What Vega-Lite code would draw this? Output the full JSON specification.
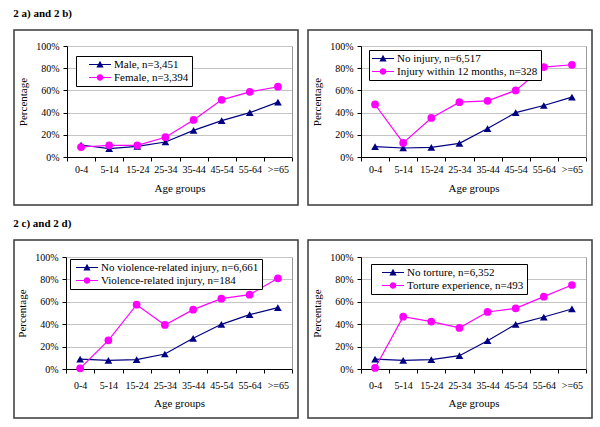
{
  "$schema": "https://vega.github.io/schema/vega-lite/v6.json",
  "background": "white",
  "padding": {"left": 13, "top": 8, "right": 0, "bottom": 0},
  "data": {
    "values": [
      {"panel": "a", "series": "Male, n=3,451", "age": "0-4", "value": 0.108},
      {"panel": "a", "series": "Male, n=3,451", "age": "5-14", "value": 0.075},
      {"panel": "a", "series": "Male, n=3,451", "age": "15-24", "value": 0.096},
      {"panel": "a", "series": "Male, n=3,451", "age": "25-34", "value": 0.135},
      {"panel": "a", "series": "Male, n=3,451", "age": "35-44", "value": 0.24},
      {"panel": "a", "series": "Male, n=3,451", "age": "45-54", "value": 0.328},
      {"panel": "a", "series": "Male, n=3,451", "age": "55-64", "value": 0.4},
      {"panel": "a", "series": "Male, n=3,451", "age": ">=65", "value": 0.494},
      {"panel": "a", "series": "Female, n=3,394", "age": "0-4", "value": 0.09},
      {"panel": "a", "series": "Female, n=3,394", "age": "5-14", "value": 0.105},
      {"panel": "a", "series": "Female, n=3,394", "age": "15-24", "value": 0.105},
      {"panel": "a", "series": "Female, n=3,394", "age": "25-34", "value": 0.178},
      {"panel": "a", "series": "Female, n=3,394", "age": "35-44", "value": 0.334},
      {"panel": "a", "series": "Female, n=3,394", "age": "45-54", "value": 0.515},
      {"panel": "a", "series": "Female, n=3,394", "age": "55-64", "value": 0.587},
      {"panel": "a", "series": "Female, n=3,394", "age": ">=65", "value": 0.633},
      {"panel": "b", "series": "No injury, n=6,517", "age": "0-4", "value": 0.093},
      {"panel": "b", "series": "No injury, n=6,517", "age": "5-14", "value": 0.081},
      {"panel": "b", "series": "No injury, n=6,517", "age": "15-24", "value": 0.087},
      {"panel": "b", "series": "No injury, n=6,517", "age": "25-34", "value": 0.123},
      {"panel": "b", "series": "No injury, n=6,517", "age": "35-44", "value": 0.256},
      {"panel": "b", "series": "No injury, n=6,517", "age": "45-54", "value": 0.4},
      {"panel": "b", "series": "No injury, n=6,517", "age": "55-64", "value": 0.464},
      {"panel": "b", "series": "No injury, n=6,517", "age": ">=65", "value": 0.539},
      {"panel": "b", "series": "Injury within 12 months, n=328", "age": "0-4", "value": 0.473},
      {"panel": "b", "series": "Injury within 12 months, n=328", "age": "5-14", "value": 0.127},
      {"panel": "b", "series": "Injury within 12 months, n=328", "age": "15-24", "value": 0.352},
      {"panel": "b", "series": "Injury within 12 months, n=328", "age": "25-34", "value": 0.494},
      {"panel": "b", "series": "Injury within 12 months, n=328", "age": "35-44", "value": 0.506},
      {"panel": "b", "series": "Injury within 12 months, n=328", "age": "45-54", "value": 0.6},
      {"panel": "b", "series": "Injury within 12 months, n=328", "age": "55-64", "value": 0.81},
      {"panel": "b", "series": "Injury within 12 months, n=328", "age": ">=65", "value": 0.831},
      {"panel": "c", "series": "No violence-related injury, n=6,661", "age": "0-4", "value": 0.089},
      {"panel": "c", "series": "No violence-related injury, n=6,661", "age": "5-14", "value": 0.077},
      {"panel": "c", "series": "No violence-related injury, n=6,661", "age": "15-24", "value": 0.083},
      {"panel": "c", "series": "No violence-related injury, n=6,661", "age": "25-34", "value": 0.134},
      {"panel": "c", "series": "No violence-related injury, n=6,661", "age": "35-44", "value": 0.274},
      {"panel": "c", "series": "No violence-related injury, n=6,661", "age": "45-54", "value": 0.399},
      {"panel": "c", "series": "No violence-related injury, n=6,661", "age": "55-64", "value": 0.485},
      {"panel": "c", "series": "No violence-related injury, n=6,661", "age": ">=65", "value": 0.548},
      {"panel": "c", "series": "Violence-related injury, n=184", "age": "0-4", "value": 0.006},
      {"panel": "c", "series": "Violence-related injury, n=184", "age": "5-14", "value": 0.256},
      {"panel": "c", "series": "Violence-related injury, n=184", "age": "15-24", "value": 0.574},
      {"panel": "c", "series": "Violence-related injury, n=184", "age": "25-34", "value": 0.393},
      {"panel": "c", "series": "Violence-related injury, n=184", "age": "35-44", "value": 0.53},
      {"panel": "c", "series": "Violence-related injury, n=184", "age": "45-54", "value": 0.628},
      {"panel": "c", "series": "Violence-related injury, n=184", "age": "55-64", "value": 0.664},
      {"panel": "c", "series": "Violence-related injury, n=184", "age": ">=65", "value": 0.81},
      {"panel": "d", "series": "No torture, n=6,352", "age": "0-4", "value": 0.089},
      {"panel": "d", "series": "No torture, n=6,352", "age": "5-14", "value": 0.077},
      {"panel": "d", "series": "No torture, n=6,352", "age": "15-24", "value": 0.083},
      {"panel": "d", "series": "No torture, n=6,352", "age": "25-34", "value": 0.119},
      {"panel": "d", "series": "No torture, n=6,352", "age": "35-44", "value": 0.253},
      {"panel": "d", "series": "No torture, n=6,352", "age": "45-54", "value": 0.399},
      {"panel": "d", "series": "No torture, n=6,352", "age": "55-64", "value": 0.464},
      {"panel": "d", "series": "No torture, n=6,352", "age": ">=65", "value": 0.536},
      {"panel": "d", "series": "Torture experience, n=493", "age": "0-4", "value": 0.009},
      {"panel": "d", "series": "Torture experience, n=493", "age": "5-14", "value": 0.467},
      {"panel": "d", "series": "Torture experience, n=493", "age": "15-24", "value": 0.423},
      {"panel": "d", "series": "Torture experience, n=493", "age": "25-34", "value": 0.367},
      {"panel": "d", "series": "Torture experience, n=493", "age": "35-44", "value": 0.509},
      {"panel": "d", "series": "Torture experience, n=493", "age": "45-54", "value": 0.542},
      {"panel": "d", "series": "Torture experience, n=493", "age": "55-64", "value": 0.646},
      {"panel": "d", "series": "Torture experience, n=493", "age": ">=65", "value": 0.75}
    ]
  },
  "spacing": 12,
  "resolve": {"scale": {"color": "independent", "shape": "independent"}, "legend": {"color": "independent", "shape": "independent"}},
  "vconcat": [
    {
      "title": {"text": "2 a) and 2 b)", "offset": 10},
      "spacing": 8,
      "resolve": {"scale": {"color": "independent", "shape": "independent"}, "legend": {"color": "independent", "shape": "independent"}},
      "hconcat": [
        {
          "width": 284,
          "height": 175,
          "transform": [{"filter": "datum.panel == 'a'"}],
          "resolve": {"axis": {"y": "independent"}},
          "layer": [
            {
              "mark": {"type": "line", "strokeWidth": 1.2},
              "encoding": {
                "x": {"field": "age", "type": "ordinal", "sort": null,
                  "scale": {"type": "band", "domain": ["0-4", "5-14", "15-24", "25-34", "35-44", "45-54", "55-64", ">=65"], "range": [53, 278], "paddingInner": 0, "paddingOuter": 0},
                  "axis": {"offset": -48, "tickBand": "extent", "labelPadding": 3, "title": "Age groups", "titlePadding": 8}},
                "y": {"field": "value", "type": "quantitative",
                  "scale": {"domain": [0, 1], "range": [127, 16], "nice": false},
                  "axis": {"offset": -53, "values": [0, 0.2, 0.4, 0.6, 0.8, 1], "format": ".0%", "grid": true, "title": "Percentage", "titlePadding": 7}},
                "color": {"field": "series", "type": "nominal", "scale": {"domain": ["Male, n=3,451", "Female, n=3,394"], "range": ["#000080", "#ff00ff"]}, "legend": {"title": null, "orient": "none", "legendX": 62, "legendY": 26, "symbolOffset": 15.5}}
              }
            },
            {
              "mark": {"type": "point", "filled": true, "opacity": 1, "size": 60, "strokeWidth": 0},
              "encoding": {
                "x": {"field": "age", "type": "ordinal", "sort": null,
                  "axis": {"offset": -48, "tickBand": "extent", "labelPadding": 3, "title": "Age groups", "titlePadding": 8}},
                "y": {"field": "value", "type": "quantitative", "axis": null},
                "color": {"field": "series", "type": "nominal", "legend": {"title": null, "orient": "none", "legendX": 62, "legendY": 26, "symbolOffset": 15.5}},
                "shape": {"condition": {"test": "indexof(datum.series, 'Female') == 0", "value": "circle"}, "value": "triangle-up"}
              }
            },
            {
              "transform": [{"filter": "datum.value < 0"}],
              "mark": {"type": "point", "filled": true},
              "encoding": {
                "y": {"field": "value", "type": "quantitative", "axis": {"orient": "right", "offset": -6, "labels": false, "ticks": false, "grid": false, "title": null, "domainColor": "#999999"}},
                "color": {"field": "series", "type": "nominal", "legend": {"title": null, "orient": "none", "legendX": 62, "legendY": 26, "symbolOffset": 15.5}},
                "shape": {"field": "series", "type": "nominal",
                  "scale": {"domain": ["Male, n=3,451", "Female, n=3,394"], "range": ["M-2,-0.1H2V0.1H-2Z M0,-0.68L0.66,0.54L-0.66,0.54Z", "M-2,-0.1H2V0.1H-2Z M0.6,0A0.6,0.6 0 1,1 -0.6,0A0.6,0.6 0 1,1 0.6,0Z"]},
                  "legend": {"title": null, "orient": "none", "legendX": 62, "legendY": 26, "symbolOffset": 15.5}}
              }
            }
          ]
        },
        {
          "width": 284,
          "height": 175,
          "transform": [{"filter": "datum.panel == 'b'"}],
          "resolve": {"axis": {"y": "independent"}},
          "layer": [
            {
              "mark": {"type": "line", "strokeWidth": 1.2},
              "encoding": {
                "x": {"field": "age", "type": "ordinal", "sort": null,
                  "scale": {"type": "band", "domain": ["0-4", "5-14", "15-24", "25-34", "35-44", "45-54", "55-64", ">=65"], "range": [53, 278], "paddingInner": 0, "paddingOuter": 0},
                  "axis": {"offset": -48, "tickBand": "extent", "labelPadding": 3, "title": "Age groups", "titlePadding": 8}},
                "y": {"field": "value", "type": "quantitative",
                  "scale": {"domain": [0, 1], "range": [127, 16], "nice": false},
                  "axis": {"offset": -53, "values": [0, 0.2, 0.4, 0.6, 0.8, 1], "format": ".0%", "grid": true, "title": "Percentage", "titlePadding": 7}},
                "color": {"field": "series", "type": "nominal", "scale": {"domain": ["No injury, n=6,517", "Injury within 12 months, n=328"], "range": ["#000080", "#ff00ff"]}, "legend": {"title": null, "orient": "none", "legendX": 61, "legendY": 20, "symbolOffset": 5.5}}
              }
            },
            {
              "mark": {"type": "point", "filled": true, "opacity": 1, "size": 60, "strokeWidth": 0},
              "encoding": {
                "x": {"field": "age", "type": "ordinal", "sort": null,
                  "axis": {"offset": -48, "tickBand": "extent", "labelPadding": 3, "title": "Age groups", "titlePadding": 8}},
                "y": {"field": "value", "type": "quantitative", "axis": null},
                "color": {"field": "series", "type": "nominal", "legend": {"title": null, "orient": "none", "legendX": 61, "legendY": 20, "symbolOffset": 5.5}},
                "shape": {"condition": {"test": "indexof(datum.series, 'Injury') == 0", "value": "circle"}, "value": "triangle-up"}
              }
            },
            {
              "transform": [{"filter": "datum.value < 0"}],
              "mark": {"type": "point", "filled": true},
              "encoding": {
                "y": {"field": "value", "type": "quantitative", "axis": {"orient": "right", "offset": -6, "labels": false, "ticks": false, "grid": false, "title": null, "domainColor": "#999999"}},
                "color": {"field": "series", "type": "nominal", "legend": {"title": null, "orient": "none", "legendX": 61, "legendY": 20, "symbolOffset": 5.5}},
                "shape": {"field": "series", "type": "nominal",
                  "scale": {"domain": ["No injury, n=6,517", "Injury within 12 months, n=328"], "range": ["M-2,-0.1H2V0.1H-2Z M0,-0.68L0.66,0.54L-0.66,0.54Z", "M-2,-0.1H2V0.1H-2Z M0.6,0A0.6,0.6 0 1,1 -0.6,0A0.6,0.6 0 1,1 0.6,0Z"]},
                  "legend": {"title": null, "orient": "none", "legendX": 61, "legendY": 20, "symbolOffset": 5.5}}
              }
            }
          ]
        }
      ]
    },
    {
      "title": {"text": "2 c) and 2 d)", "offset": 10},
      "spacing": 8,
      "resolve": {"scale": {"color": "independent", "shape": "independent"}, "legend": {"color": "independent", "shape": "independent"}},
      "hconcat": [
        {
          "width": 284,
          "height": 178,
          "transform": [{"filter": "datum.panel == 'c'"}],
          "resolve": {"axis": {"y": "independent"}},
          "layer": [
            {
              "mark": {"type": "line", "strokeWidth": 1.2},
              "encoding": {
                "x": {"field": "age", "type": "ordinal", "sort": null,
                  "scale": {"type": "band", "domain": ["0-4", "5-14", "15-24", "25-34", "35-44", "45-54", "55-64", ">=65"], "range": [52, 278], "paddingInner": 0, "paddingOuter": 0},
                  "axis": {"offset": -49, "tickBand": "extent", "labelPadding": 7, "title": "Age groups", "titlePadding": 7}},
                "y": {"field": "value", "type": "quantitative",
                  "scale": {"domain": [0, 1], "range": [129, 17], "nice": false},
                  "axis": {"offset": -52, "values": [0, 0.2, 0.4, 0.6, 0.8, 1], "format": ".0%", "grid": true, "title": "Percentage", "titlePadding": 7}},
                "color": {"field": "series", "type": "nominal", "scale": {"domain": ["No violence-related injury, n=6,661", "Violence-related injury, n=184"], "range": ["#000080", "#ff00ff"]}, "legend": {"title": null, "orient": "none", "legendX": 56, "legendY": 19, "symbolOffset": 8.5}}
              }
            },
            {
              "mark": {"type": "point", "filled": true, "opacity": 1, "size": 60, "strokeWidth": 0},
              "encoding": {
                "x": {"field": "age", "type": "ordinal", "sort": null,
                  "axis": {"offset": -49, "tickBand": "extent", "labelPadding": 7, "title": "Age groups", "titlePadding": 7}},
                "y": {"field": "value", "type": "quantitative", "axis": null},
                "color": {"field": "series", "type": "nominal", "legend": {"title": null, "orient": "none", "legendX": 56, "legendY": 19, "symbolOffset": 8.5}},
                "shape": {"condition": {"test": "indexof(datum.series, 'Violence') == 0", "value": "circle"}, "value": "triangle-up"}
              }
            },
            {
              "transform": [{"filter": "datum.value < 0"}],
              "mark": {"type": "point", "filled": true},
              "encoding": {
                "y": {"field": "value", "type": "quantitative", "axis": {"orient": "right", "offset": -6, "labels": false, "ticks": false, "grid": false, "title": null, "domainColor": "#999999"}},
                "color": {"field": "series", "type": "nominal", "legend": {"title": null, "orient": "none", "legendX": 56, "legendY": 19, "symbolOffset": 8.5}},
                "shape": {"field": "series", "type": "nominal",
                  "scale": {"domain": ["No violence-related injury, n=6,661", "Violence-related injury, n=184"], "range": ["M-2,-0.1H2V0.1H-2Z M0,-0.68L0.66,0.54L-0.66,0.54Z", "M-2,-0.1H2V0.1H-2Z M0.6,0A0.6,0.6 0 1,1 -0.6,0A0.6,0.6 0 1,1 0.6,0Z"]},
                  "legend": {"title": null, "orient": "none", "legendX": 56, "legendY": 19, "symbolOffset": 8.5}}
              }
            }
          ]
        },
        {
          "width": 284,
          "height": 178,
          "transform": [{"filter": "datum.panel == 'd'"}],
          "resolve": {"axis": {"y": "independent"}},
          "layer": [
            {
              "mark": {"type": "line", "strokeWidth": 1.2},
              "encoding": {
                "x": {"field": "age", "type": "ordinal", "sort": null,
                  "scale": {"type": "band", "domain": ["0-4", "5-14", "15-24", "25-34", "35-44", "45-54", "55-64", ">=65"], "range": [53, 278], "paddingInner": 0, "paddingOuter": 0},
                  "axis": {"offset": -49, "tickBand": "extent", "labelPadding": 7, "title": "Age groups", "titlePadding": 7}},
                "y": {"field": "value", "type": "quantitative",
                  "scale": {"domain": [0, 1], "range": [129, 17], "nice": false},
                  "axis": {"offset": -53, "values": [0, 0.2, 0.4, 0.6, 0.8, 1], "format": ".0%", "grid": true, "title": "Percentage", "titlePadding": 7}},
                "color": {"field": "series", "type": "nominal", "scale": {"domain": ["No torture, n=6,352", "Torture experience, n=493"], "range": ["#000080", "#ff00ff"]}, "legend": {"title": null, "orient": "none", "legendX": 63, "legendY": 24, "symbolOffset": 13.5}}
              }
            },
            {
              "mark": {"type": "point", "filled": true, "opacity": 1, "size": 60, "strokeWidth": 0},
              "encoding": {
                "x": {"field": "age", "type": "ordinal", "sort": null,
                  "axis": {"offset": -49, "tickBand": "extent", "labelPadding": 7, "title": "Age groups", "titlePadding": 7}},
                "y": {"field": "value", "type": "quantitative", "axis": null},
                "color": {"field": "series", "type": "nominal", "legend": {"title": null, "orient": "none", "legendX": 63, "legendY": 24, "symbolOffset": 13.5}},
                "shape": {"condition": {"test": "indexof(datum.series, 'Torture') == 0", "value": "circle"}, "value": "triangle-up"}
              }
            },
            {
              "transform": [{"filter": "datum.value < 0"}],
              "mark": {"type": "point", "filled": true},
              "encoding": {
                "y": {"field": "value", "type": "quantitative", "axis": {"orient": "right", "offset": -6, "labels": false, "ticks": false, "grid": false, "title": null, "domainColor": "#999999"}},
                "color": {"field": "series", "type": "nominal", "legend": {"title": null, "orient": "none", "legendX": 63, "legendY": 24, "symbolOffset": 13.5}},
                "shape": {"field": "series", "type": "nominal",
                  "scale": {"domain": ["No torture, n=6,352", "Torture experience, n=493"], "range": ["M-2,-0.1H2V0.1H-2Z M0,-0.68L0.66,0.54L-0.66,0.54Z", "M-2,-0.1H2V0.1H-2Z M0.6,0A0.6,0.6 0 1,1 -0.6,0A0.6,0.6 0 1,1 0.6,0Z"]},
                  "legend": {"title": null, "orient": "none", "legendX": 63, "legendY": 24, "symbolOffset": 13.5}}
              }
            }
          ]
        }
      ]
    }
  ],
  "config": {
    "font": "Liberation Serif",
    "view": {"stroke": "#3a3a3a", "strokeWidth": 1.5},
    "title": {"font": "Liberation Serif", "fontSize": 11, "fontWeight": "bold", "anchor": "start", "color": "black"},
    "axis": {
      "labelFont": "Liberation Serif", "labelFontSize": 10, "labelColor": "black",
      "titleFont": "Liberation Serif", "titleFontSize": 11, "titleFontWeight": "normal", "titleColor": "black",
      "domainColor": "black", "tickColor": "black", "tickSize": 4, "gridColor": "#c4c4c4", "labelPadding": 4
    },
    "axisX": {"labelAngle": 0, "grid": false},
    "legend": {
      "labelFont": "Liberation Serif", "labelFontSize": 11, "labelColor": "black",
      "strokeColor": "black", "fillColor": "white", "padding": 3, "rowPadding": 1,
      "symbolSize": 121, "symbolStrokeWidth": 0, "labelOffset": 8.5, "labelLimit": 300
    }
  }
}
